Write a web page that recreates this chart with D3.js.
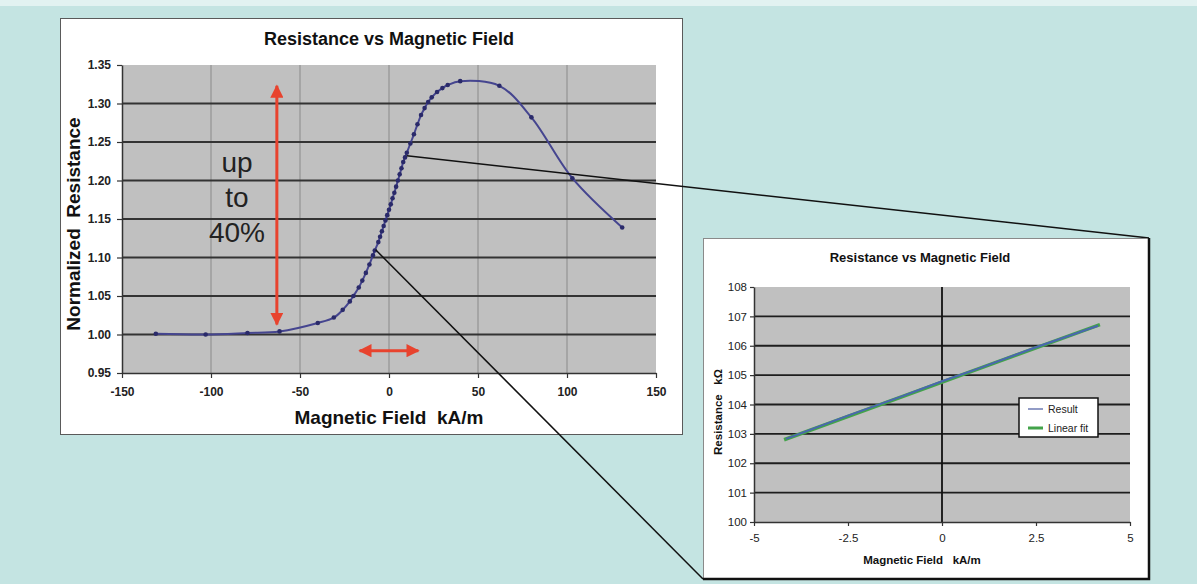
<!DOCTYPE html>
<html>
<head>
<meta charset="utf-8">
<script src="https://cdn.jsdelivr.net/npm/d3@7"></script>
<style>
  body { margin: 0; background: #c4e4e2; }
  svg { display: block; font-family: "Liberation Sans", Arial, sans-serif; }
</style>
</head>
<body>
<svg id="chart" width="1197" height="584"></svg>
<script>
// main chart: magnetic field (kA/m) vs normalized resistance
const fieldKAm = [-131, -103, -79.5, -61.5, -40, -31, -26, -22, -20, -17, -15, -13, -11, -9, -8, -6, -5, -4, -3, -2, -1,
  0, 1, 2, 3, 4, 5, 6, 7, 8, 9, 10, 12, 14, 16, 18, 20, 22, 24, 27, 30, 33, 40, 62, 80, 103, 131]
const normResistance = [1.001, 1.000, 1.002, 1.004, 1.015, 1.022, 1.032, 1.043, 1.050, 1.061, 1.070, 1.080, 1.091, 1.103, 1.109,
  1.120, 1.127, 1.134, 1.141, 1.148, 1.155, 1.162, 1.169, 1.177, 1.184, 1.192, 1.200, 1.208, 1.216, 1.224, 1.230,
  1.236, 1.248, 1.260, 1.273, 1.285, 1.294, 1.302, 1.308, 1.315, 1.320, 1.324, 1.329, 1.323, 1.282, 1.203, 1.139]
const mainXTicks = [-150, -100, -50, 0, 50, 100, 150]
const mainYTicks = [0.95, 1.00, 1.05, 1.10, 1.15, 1.20, 1.25, 1.30, 1.35]

// inset chart: small field range, resistance in kOhm
const insetField = [-4.15, -2.5, -1, 0, 1, 2.5, 4.15]
const insetResult = [102.83, 103.62, 104.31, 104.79, 105.24, 105.95, 106.68]
const fitField = [-4.2, 4.2]
const fitResistance = [102.8, 106.72]
const insetXTicks = [-5, -2.5, 0, 2.5, 5]
const insetYTicks = [100, 101, 102, 103, 104, 105, 106, 107, 108]

// zoom connectors start on the curve at these points
const zoomFrom = [[10, 1.232], [-7.5, 1.110]]

const svg = d3.select('#chart')
const red = '#e8432e'

// light strip at the very top
svg.append('rect').attr('x', 0).attr('y', 0).attr('width', 1197).attr('height', 6).attr('fill', '#e2f2f1')

// ---------- main panel ----------
svg.append('rect')
  .attr('x', 60.5).attr('y', 18.5).attr('width', 622).attr('height', 416)
  .attr('fill', '#fff').attr('stroke', '#5a5a5a')

const m = { left: 122, right: 656, top: 65, bottom: 373 }
const x = d3.scaleLinear().domain([-150, 150]).range([m.left, m.right])
const y = d3.scaleLinear().domain([0.95, 1.35]).range([m.bottom, m.top])

const main = svg.append('g')
main.append('rect')
  .attr('x', m.left).attr('y', m.top)
  .attr('width', m.right - m.left).attr('height', m.bottom - m.top)
  .attr('fill', '#c0c0c0')

// vertical grid (light) and horizontal grid (dark)
main.append('g')
  .selectAll('line')
  .data(mainXTicks.slice(1, -1))
  .join('line')
  .attr('x1', d => x(d)).attr('x2', d => x(d))
  .attr('y1', m.top).attr('y2', m.bottom)
  .attr('stroke', '#9c9c9c').attr('stroke-width', 1.5)

main.append('g')
  .selectAll('line')
  .data(mainYTicks.slice(1, -1))
  .join('line')
  .attr('x1', m.left).attr('x2', m.right)
  .attr('y1', d => y(d)).attr('y2', d => y(d))
  .attr('stroke', '#333').attr('stroke-width', 2)

const styleAxis = (g, size, weight) => {
  g.select('.domain').attr('stroke', '#333').attr('stroke-width', 1.5)
  g.selectAll('.tick line').attr('stroke', '#333').attr('stroke-width', 1.2)
  g.selectAll('.tick text')
    .attr('fill', '#222')
    .style('font-size', size + 'px')
    .style('font-weight', weight)
}

// plain hyphen minus, as in the source chart
const plain = d => String(d)

main.append('g')
  .attr('transform', `translate(0,${m.bottom})`)
  .call(d3.axisBottom(x).tickValues(mainXTicks).tickFormat(plain).tickSize(5).tickSizeOuter(0).tickPadding(9))
  .call(g => styleAxis(g, 12, 'bold'))

main.append('g')
  .attr('transform', `translate(${m.left},0)`)
  .call(d3.axisLeft(y).tickValues(mainYTicks).tickFormat(d3.format('.2f')).tickSize(5).tickSizeOuter(0).tickPadding(6))
  .call(g => styleAxis(g, 12, 'bold'))

// curve + markers
const pts = fieldKAm.map((f, i) => [f, normResistance[i]])
main.append('path')
  .datum(pts)
  .attr('d', d3.line().x(d => x(d[0])).y(d => y(d[1])).curve(d3.curveCatmullRom.alpha(0.5)))
  .attr('fill', 'none').attr('stroke', '#45458f').attr('stroke-width', 2)

main.append('g')
  .selectAll('circle')
  .data(pts)
  .join('circle')
  .attr('cx', d => x(d[0])).attr('cy', d => y(d[1]))
  .attr('r', 2.3).attr('fill', '#2a2a6a')

// titles
svg.append('text').attr('x', 389).attr('y', 45).attr('text-anchor', 'middle')
  .style('font-size', '18px').style('font-weight', 'bold').attr('fill', '#111')
  .text('Resistance vs Magnetic Field')
svg.append('text').attr('x', 389).attr('y', 424).attr('text-anchor', 'middle')
  .style('font-size', '19px').style('font-weight', 'bold').attr('fill', '#111')
  .attr('xml:space', 'preserve')
  .text('Magnetic Field  kA/m')
svg.append('text')
  .attr('transform', 'translate(80,224) rotate(-90)')
  .attr('text-anchor', 'middle')
  .style('font-size', '19px').style('font-weight', 'bold').attr('fill', '#111')
  .attr('xml:space', 'preserve')
  .text('Normalized  Resistance')

// red arrows
const defs = svg.append('defs')
defs.append('marker')
  .attr('id', 'head').attr('viewBox', '0 0 10 10')
  .attr('refX', 9).attr('refY', 5)
  .attr('markerWidth', 4.4).attr('markerHeight', 4.4)
  .attr('markerUnits', 'strokeWidth')
  .attr('orient', 'auto-start-reverse')
  .append('path').attr('d', 'M0,0L10,5L0,10z').attr('fill', red)

main.append('line')
  .attr('x1', x(-63)).attr('x2', x(-63))
  .attr('y1', y(1.323)).attr('y2', y(1.013))
  .attr('stroke', red).attr('stroke-width', 3)
  .attr('marker-start', 'url(#head)').attr('marker-end', 'url(#head)')

main.append('line')
  .attr('x1', x(-16.5)).attr('x2', x(16.5))
  .attr('y1', y(0.979)).attr('y2', y(0.979))
  .attr('stroke', red).attr('stroke-width', 3)
  .attr('marker-start', 'url(#head)').attr('marker-end', 'url(#head)')

const note = svg.append('text').attr('text-anchor', 'middle')
  .style('font-size', '28px').attr('fill', '#222')
note.selectAll('tspan')
  .data(['up', 'to', '40%'])
  .join('tspan')
  .attr('x', 237).attr('y', (d, i) => 172 + i * 35)
  .text(d => d)

// ---------- inset panel ----------
const p = { left: 703, top: 238, right: 1149, bottom: 579 }

// connectors drawn before the inset so the panel sits on top
svg.append('line')
  .attr('x1', x(zoomFrom[0][0])).attr('y1', y(zoomFrom[0][1]))
  .attr('x2', p.right).attr('y2', p.top)
  .attr('stroke', '#111').attr('stroke-width', 1.5)
svg.append('line')
  .attr('x1', x(zoomFrom[1][0])).attr('y1', y(zoomFrom[1][1]))
  .attr('x2', p.left).attr('y2', p.bottom)
  .attr('stroke', '#111').attr('stroke-width', 1.5)

svg.append('rect')
  .attr('x', p.left + 0.5).attr('y', p.top + 0.5)
  .attr('width', p.right - p.left).attr('height', p.bottom - p.top)
  .attr('fill', '#fff').attr('stroke', '#8a8a8a')
svg.append('path')
  .attr('d', `M${p.right},${p.top}V${p.bottom}H${p.left}`)
  .attr('fill', 'none').attr('stroke', '#111').attr('stroke-width', 2.5)

const n = { left: 754, right: 1130, top: 287, bottom: 522 }
const xi = d3.scaleLinear().domain([-5, 5]).range([n.left, n.right])
const yi = d3.scaleLinear().domain([100, 108]).range([n.bottom, n.top])

const inset = svg.append('g')
inset.append('rect')
  .attr('x', n.left).attr('y', n.top)
  .attr('width', n.right - n.left).attr('height', n.bottom - n.top)
  .attr('fill', '#c0c0c0')

inset.append('g')
  .selectAll('line')
  .data(insetYTicks.slice(1, -1))
  .join('line')
  .attr('x1', n.left).attr('x2', n.right)
  .attr('y1', d => yi(d)).attr('y2', d => yi(d))
  .attr('stroke', '#1e1e1e').attr('stroke-width', 1.8)

inset.append('line')
  .attr('x1', xi(0)).attr('x2', xi(0))
  .attr('y1', n.top).attr('y2', n.bottom)
  .attr('stroke', '#111').attr('stroke-width', 1.8)

inset.append('g')
  .attr('transform', `translate(0,${n.bottom})`)
  .call(d3.axisBottom(xi).tickValues(insetXTicks).tickFormat(plain).tickSize(4).tickSizeOuter(0).tickPadding(8))
  .call(g => styleAxis(g, 11.5, 'normal'))

inset.append('g')
  .attr('transform', `translate(${n.left},0)`)
  .call(d3.axisLeft(yi).tickValues(insetYTicks).tickFormat(plain).tickSize(4).tickSizeOuter(0).tickPadding(3))
  .call(g => styleAxis(g, 11.5, 'normal'))

const lineI = d3.line().x(d => xi(d[0])).y(d => yi(d[1]))
inset.append('path')
  .datum(fitField.map((f, i) => [f, fitResistance[i]]))
  .attr('d', lineI)
  .attr('fill', 'none').attr('stroke', '#43a34a').attr('stroke-width', 3.5)
inset.append('path')
  .datum(insetField.map((f, i) => [f, insetResult[i]]))
  .attr('d', lineI)
  .attr('fill', 'none').attr('stroke', '#4a66b0').attr('stroke-width', 2)

// legend
const leg = inset.append('g').attr('transform', 'translate(1019,398)')
leg.append('rect').attr('width', 79).attr('height', 39)
  .attr('fill', '#fff').attr('stroke', '#111').attr('stroke-width', 1.5)
const legItems = [
  { name: 'Result', color: '#4a5aa0', w: 1.2 },
  { name: 'Linear fit', color: '#43a34a', w: 3 }
]
leg.selectAll('g')
  .data(legItems)
  .join('g')
  .attr('transform', (d, i) => `translate(0,${11 + i * 19})`)
  .each(function (d) {
    const g = d3.select(this)
    g.append('line').attr('x1', 9).attr('x2', 24)
      .attr('stroke', d.color).attr('stroke-width', d.w)
    g.append('text').attr('x', 29).attr('y', 4)
      .style('font-size', '10.5px').attr('fill', '#222')
      .text(d.name)
  })

svg.append('text').attr('x', 920).attr('y', 262).attr('text-anchor', 'middle')
  .style('font-size', '13px').style('font-weight', 'bold').attr('fill', '#111')
  .text('Resistance vs Magnetic Field')
svg.append('text').attr('x', 922).attr('y', 564).attr('text-anchor', 'middle')
  .style('font-size', '11.5px').style('font-weight', 'bold').attr('fill', '#111')
  .attr('xml:space', 'preserve')
  .text('Magnetic Field   kA/m')
svg.append('text')
  .attr('transform', 'translate(722,412) rotate(-90)')
  .attr('text-anchor', 'middle')
  .style('font-size', '11.5px').style('font-weight', 'bold').attr('fill', '#111')
  .attr('xml:space', 'preserve')
  .text('Resistance   kΩ')
</script>
</body>
</html>
